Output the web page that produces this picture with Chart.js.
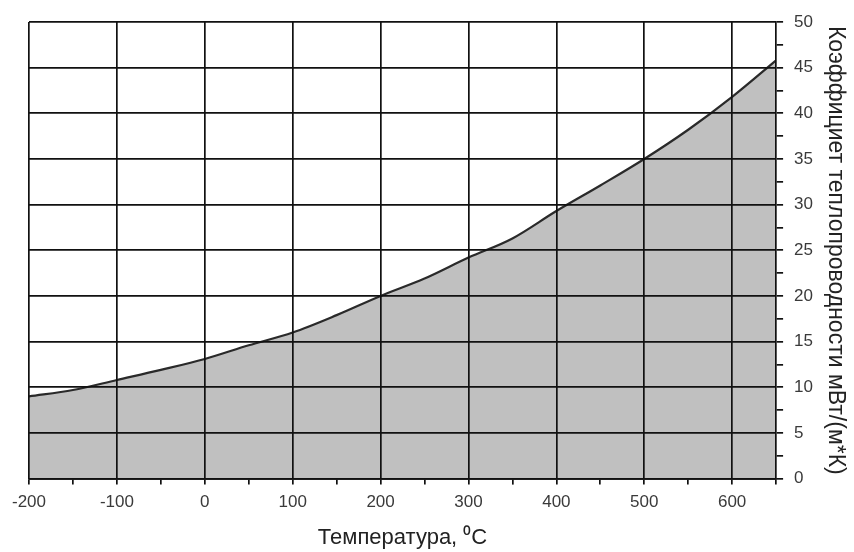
<!DOCTYPE html>
<html>
<head>
<meta charset="utf-8">
<script src="https://cdn.jsdelivr.net/npm/chart.js@4/dist/chart.umd.min.js"></script>
<style>
html,body{margin:0;padding:0;background:#fff;}
#wrap{width:854px;height:552px;}
</style>
</head>
<body>
<div id="wrap"><canvas id="c" width="854" height="552"></canvas></div>
<script>
const temperatures = [-200,-150,-100,-50,0,50,100,150,200,250,300,350,400,450,500,550,600,650];
const conductivity = [9.0,9.7,10.8,11.9,13.1,14.6,16.0,17.9,20.0,21.9,24.2,26.3,29.3,32.1,35.0,38.2,41.8,45.8];
const xTitle = 'Температура, \u2070C';
const yTitle = 'Коэффициет теплопроводности мВт/(м*К)';

const points = temperatures.map((t,i)=>({x:t,y:conductivity[i]}));
const fam = '"Liberation Sans", Arial, sans-serif';
const tickFont = {family:fam, size:17};

new Chart(document.getElementById('c'), {
  type:'line',
  data:{datasets:[{
    data:points,
    borderColor:'#2a2a2a',
    borderWidth:2.2,
    backgroundColor:'#c0c0c0',
    fill:'origin',
    pointRadius:0,
    cubicInterpolationMode:'monotone'
  }]},
  options:{
    responsive:false,
    animation:false,
    layout:{padding:{left:29,right:-10,top:22,bottom:3}},
    plugins:{legend:{display:false},tooltip:{enabled:false}},
    scales:{
      x:{
        type:'linear',min:-200,max:650,
        afterBuildTicks:(s)=>{s.ticks=[];for(let v=-200;v<=650;v+=50)s.ticks.push({value:v});},
        ticks:{font:tickFont,color:'#3a3a3a',maxRotation:0,autoSkip:false,padding:8,
          callback:(v)=> (v%100===0 ? v : '')},
        grid:{z:1,color:(c)=> (c.tick && c.tick.value%100===0 ? '#111' : 'rgba(0,0,0,0)'),
          tickColor:'#111',lineWidth:1.7,tickLength:6,drawOnChartArea:true},
        border:{z:1,color:'#111',width:1.7},
        title:{display:true,text:xTitle,font:{family:fam,size:22,lineHeight:1},color:'#222',padding:{top:6,bottom:0}}
      },
      y:{
        type:'linear',position:'right',min:0,max:50,
        afterBuildTicks:(s)=>{s.ticks=[];for(let v=0;v<=50;v+=2.5)s.ticks.push({value:v});},
        ticks:{font:tickFont,color:'#3a3a3a',autoSkip:false,padding:11,
          callback:(v)=> (v%5===0 ? v : '')},
        grid:{z:1,color:(c)=> (c.tick && c.tick.value%5===0 ? '#111' : 'rgba(0,0,0,0)'),
          tickColor:'#111',lineWidth:1.7,tickLength:7},
        border:{z:1,color:'#111',width:1.7},
        title:{display:true,text:yTitle,font:{family:fam,size:23,lineHeight:1},color:'#222',padding:{top:17,bottom:0}}
      }
    }
  }
});
</script>
</body>
</html>
